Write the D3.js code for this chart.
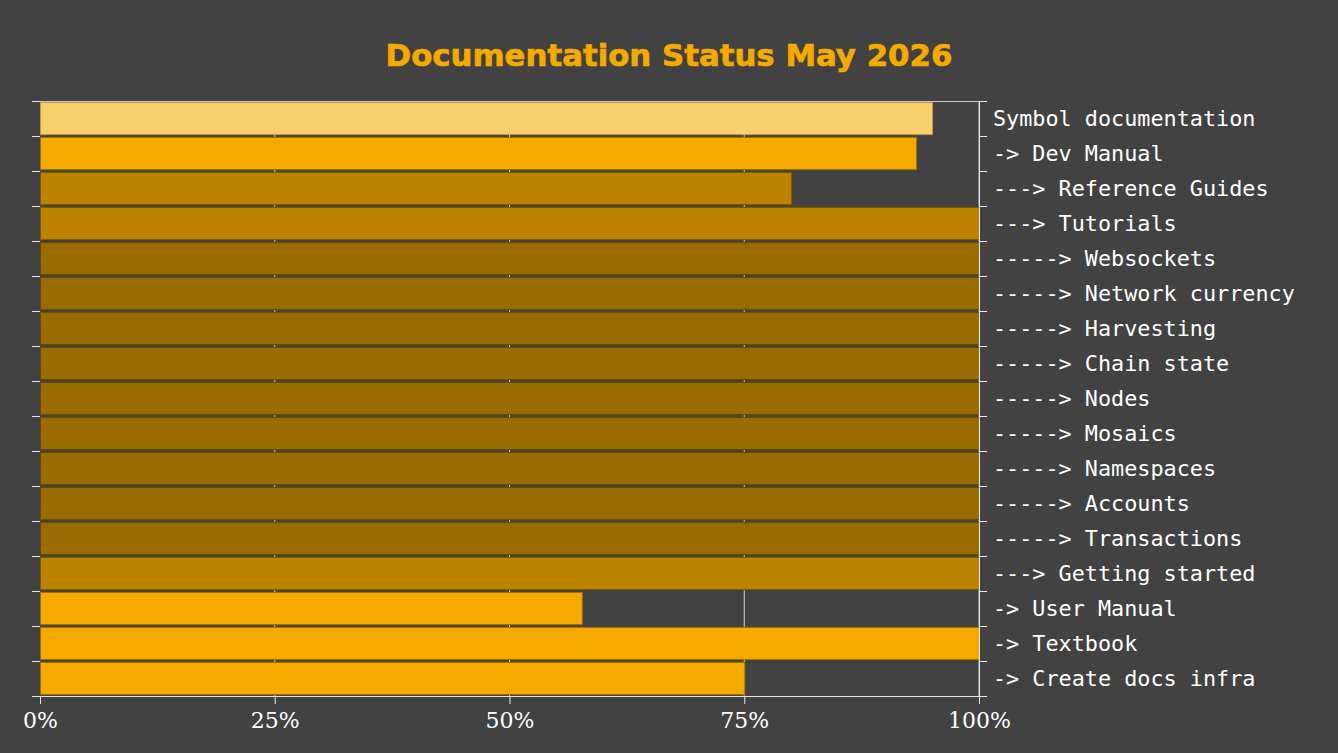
<!DOCTYPE html>
<html>
<head>
<meta charset="utf-8">
<script src="https://cdn.jsdelivr.net/npm/d3@7"></script>
<style>
  html, body { margin: 0; padding: 0; background: #424242; }
  svg { display: block; }
</style>
</head>
<body>
<div id="chart"></div>
<script>
// data
const labels = [
  "Symbol documentation", "-> Dev Manual", "---> Reference Guides", "---> Tutorials",
  "-----> Websockets", "-----> Network currency", "-----> Harvesting", "-----> Chain state",
  "-----> Nodes", "-----> Mosaics", "-----> Namespaces", "-----> Accounts",
  "-----> Transactions", "---> Getting started", "-> User Manual", "-> Textbook",
  "-> Create docs infra"
];
const levels = [0, 1, 2, 2, 3, 3, 3, 3, 3, 3, 3, 3, 3, 2, 1, 1, 1];
const progress = [0.95, 0.933, 0.80, 1, 1, 1, 1, 1, 1, 1, 1, 1, 1, 1, 0.577, 1, 0.75];
const xTicks = [0, 0.25, 0.5, 0.75, 1];

const levelFill = ["#f7cf6b", "#f5aa00", "#bd8300", "#9a6b00"];
const levelStroke = ["#b89a50", "#9c7000", "#7c5800", "#6a4a00"];

const width = 1338, height = 753;
const plotLeft = 40, plotRight = 979, plotTop = 101, plotBottom = 696;

const svg = d3.select("#chart").append("svg")
    .attr("width", width)
    .attr("height", height);

svg.append("text")
    .attr("x", width / 2)
    .attr("y", 66)
    .attr("text-anchor", "middle")
    .attr("fill", "#f5aa00")
    .attr("stroke", "#f5aa00")
    .attr("stroke-width", 0.7)
    .style("font-family", "'DejaVu Sans', sans-serif")
    .style("font-weight", "bold")
    .style("font-size", "30.8px")
    .text("Documentation Status May 2026");

const x = d3.scaleLinear().domain([0, 1]).range([plotLeft, plotRight]);
const y = d3.scaleBand().domain(labels).range([plotTop, plotBottom]).paddingInner(0.08).paddingOuter(0.04);
// row boundaries for the side ticks
const rows = d3.scaleLinear().domain([0, labels.length]).range([plotTop, plotBottom]);

// grid behind bars
svg.append("g")
  .selectAll("line")
  .data(xTicks.slice(1))
  .enter().append("line")
    .attr("x1", d => x(d)).attr("x2", d => x(d))
    .attr("y1", plotTop).attr("y2", plotBottom)
    .attr("stroke", "#d0d0d0")
    .attr("stroke-width", 1);

svg.append("line")
    .attr("x1", plotLeft).attr("x2", plotRight)
    .attr("y1", plotTop + 0.5).attr("y2", plotTop + 0.5)
    .attr("stroke", "#d0d0d0");

svg.append("g")
  .selectAll("rect")
  .data(labels)
  .enter().append("rect")
    .attr("x", plotLeft + 0.5)
    .attr("y", d => y(d))
    .attr("width", (d, i) => x(progress[i]) - plotLeft)
    .attr("height", y.bandwidth())
    .attr("fill", (d, i) => levelFill[levels[i]])
    .attr("stroke", (d, i) => levelStroke[levels[i]])
    .attr("stroke-width", 1);

// axes
const bottomAxis = svg.append("g")
    .attr("transform", `translate(0,${plotBottom})`)
    .call(d3.axisBottom(x).tickValues(xTicks).tickFormat(d3.format(".0%")).tickSize(8).tickSizeOuter(0));
bottomAxis.selectAll("text")
    .attr("dy", "0.97em")
    .style("font-family", "'DejaVu Serif', serif")
    .style("font-size", "22px");

const leftAxis = svg.append("g")
    .attr("transform", `translate(${plotLeft},0)`)
    .call(d3.axisLeft(rows).tickValues(d3.range(labels.length + 1)).tickFormat("").tickSize(8).tickSizeOuter(0));
leftAxis.select(".domain").remove();

svg.append("g")
    .attr("transform", `translate(${plotRight},0)`)
    .call(d3.axisRight(rows).tickValues(d3.range(labels.length + 1)).tickFormat("").tickSize(8).tickSizeOuter(0));

const labelAxis = svg.append("g")
    .attr("transform", `translate(${plotRight},0)`)
    .call(d3.axisRight(y).tickSize(0).tickPadding(14));
labelAxis.select(".domain").remove();
labelAxis.selectAll("text")
    .attr("dy", "0.36em")
    .style("font-family", "'DejaVu Sans Mono', monospace")
    .style("font-size", "21.8px");

svg.selectAll(".domain, .tick line").attr("stroke", "#e8e8e8");
svg.selectAll(".tick text").attr("fill", "#ffffff");
</script>
</body>
</html>
